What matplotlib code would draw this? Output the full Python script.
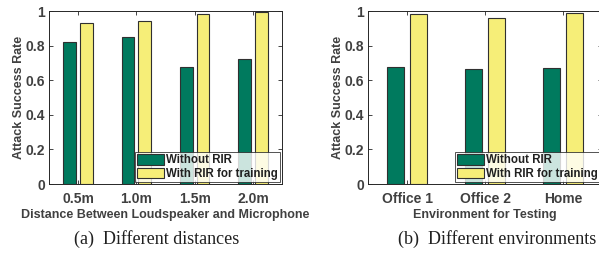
import matplotlib
matplotlib.use("Agg")
import matplotlib.pyplot as plt
import numpy as np

plt.rcParams['font.family'] = ['Liberation Sans', 'DejaVu Sans']

# (a) different distances
dist_labels = ['0.5m', '1.0m', '1.5m', '2.0m']
dist_without = [0.82, 0.85, 0.675, 0.725]
dist_with = [0.93, 0.94, 0.985, 0.995]

# (b) different environments
env_labels = ['Office 1', 'Office 2', 'Home']
env_without = [0.675, 0.665, 0.67]
env_with = [0.985, 0.96, 0.99]

series_names = ['Without RIR', 'With RIR for training']
green = '#007a5e'
yellow = '#f6ee78'
txt = '#404040'

fig = plt.figure(figsize=(5.99, 2.58), dpi=100)
ax1 = fig.add_axes([49/599, 74/258, 233/599, 173/258])
ax2 = fig.add_axes([368/599, 74/258, 234/599, 173/258])


def draw(ax, labels, without, with_, xlabel):
    x = np.arange(1, len(labels) + 1)
    w = 0.22
    off = 0.145
    ax.bar(x - off, without, w, color=green, edgecolor='#303030', linewidth=0.8, label=series_names[0])
    ax.bar(x + off, with_, w, color=yellow, edgecolor='#303030', linewidth=0.8, label=series_names[1])
    ax.set_xlim(0.5, len(labels) + 0.5)
    ax.set_ylim(0, 1)
    ax.set_yticks([0, 0.2, 0.4, 0.6, 0.8, 1])
    ax.set_yticklabels(['0', '0.2', '0.4', '0.6', '0.8', '1'])
    ax.set_xticks(x)
    ax.set_xticklabels(labels)
    ax.tick_params(direction='in', top=True, right=True, length=3, width=0.6,
                   labelsize=10, colors='#262626', labelcolor=txt)
    ax.tick_params(axis='y', pad=3)
    ax.tick_params(axis='x', pad=6)
    for lab in ax.get_xticklabels() + ax.get_yticklabels():
        lab.set_fontweight('bold')
    for s in ax.spines.values():
        s.set_linewidth(0.7)
        s.set_color('#262626')
    ax.set_xlabel(xlabel, fontsize=9, fontweight='bold', color=txt, labelpad=2)
    ax.set_ylabel('Attack Success Rate', fontsize=9, fontweight='bold', color=txt, labelpad=0)
    leg = ax.legend(loc='lower right', prop={'weight': 'bold', 'size': 8.3},
                    frameon=True, fancybox=False, borderpad=0.2, labelspacing=0.12,
                    handlelength=2.4, handleheight=1.0, handletextpad=0.15,
                    borderaxespad=0.15)
    leg.get_frame().set_edgecolor('#262626')
    leg.get_frame().set_linewidth(0.7)
    for t in leg.get_texts():
        t.set_color('#202020')
    return ax


draw(ax1, dist_labels, dist_without, dist_with,
     'Distance Between Loudspeaker and Microphone')
draw(ax2, env_labels, env_without, env_with,
     'Environment for Testing')

fig.text(157/599, 1 - 239/258, '(a)  Different distances', ha='center', va='center',
         fontsize=13, family='Liberation Serif', color='#202020')
fig.text(497/599, 1 - 239/258, '(b)  Different environments', ha='center', va='center',
         fontsize=13, family='Liberation Serif', color='#202020')

fig.savefig('out.png', dpi=100)
